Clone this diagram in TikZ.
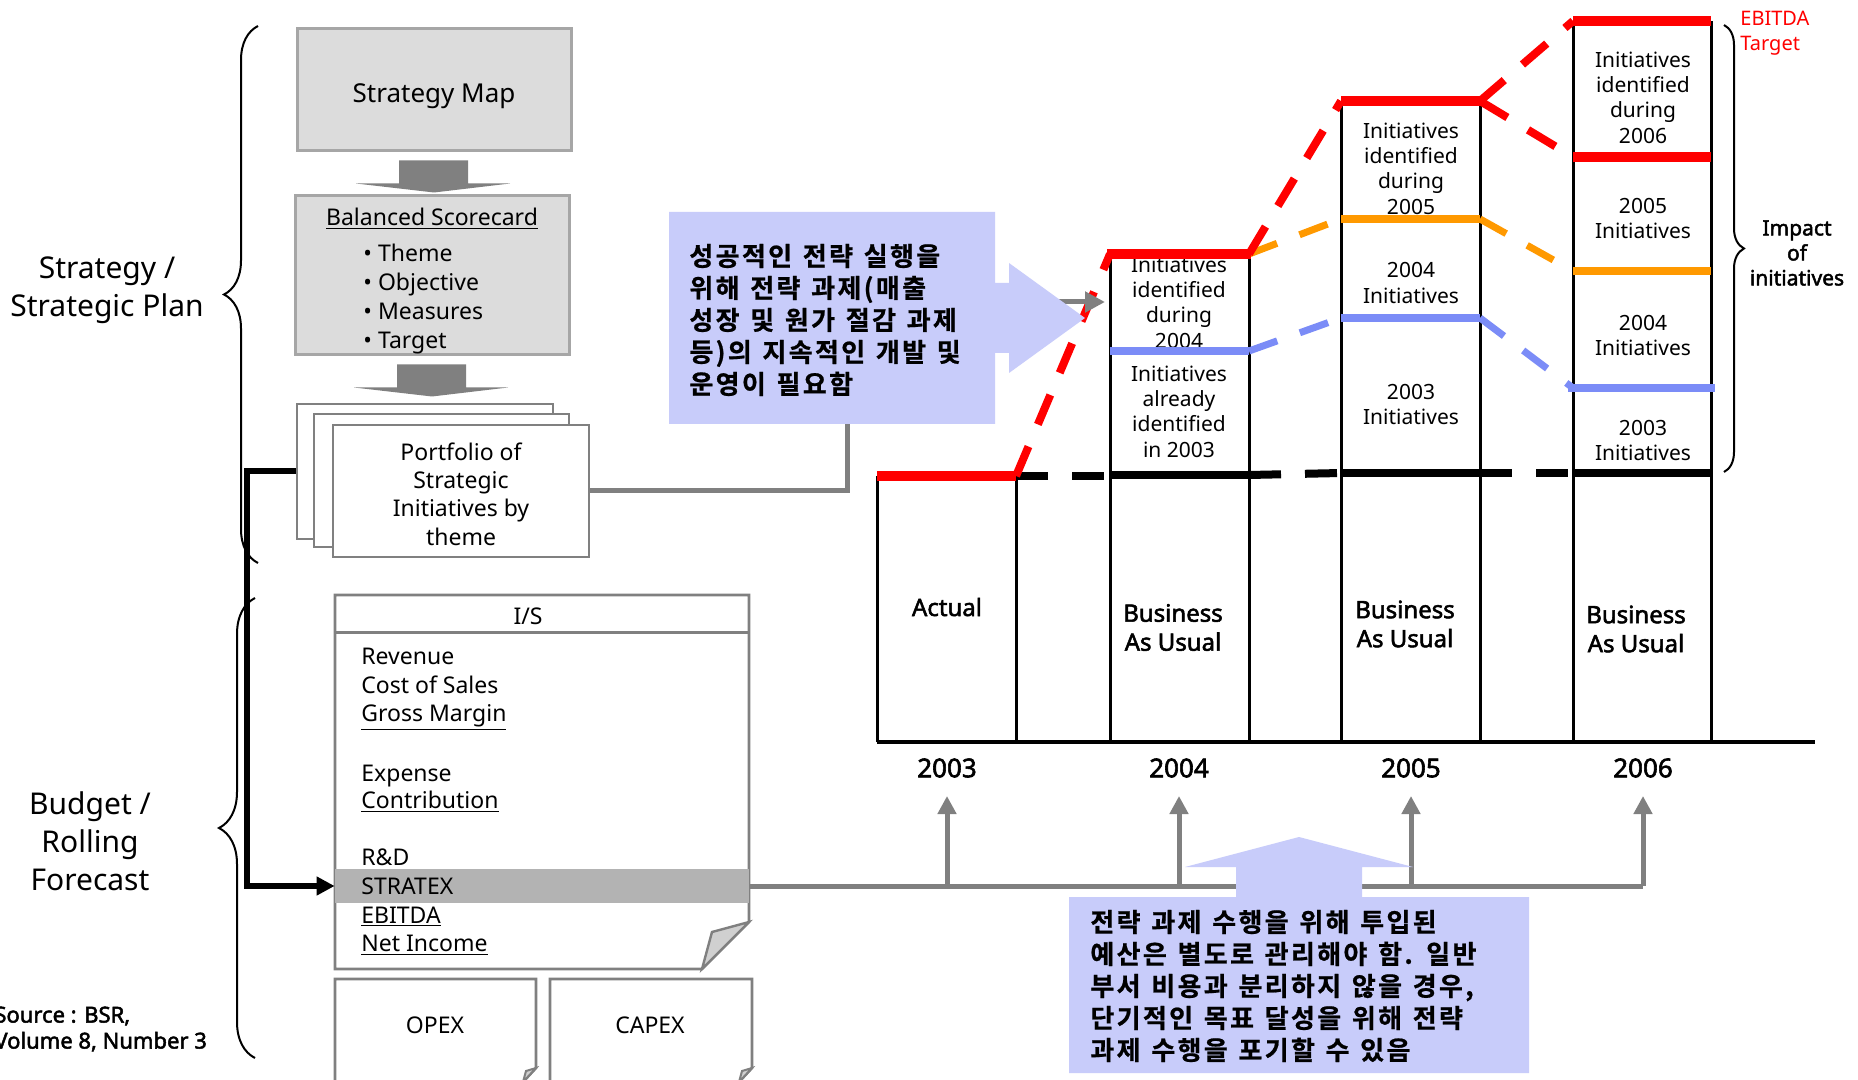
\documentclass[tikz,border=0pt]{standalone}
\usepackage{fontspec}
\setmainfont{Noto Sans}[AutoFakeBold=2.2]
\newfontfamily\krfont{Noto Sans CJK KR Bold}[FakeBold=0.8, LetterSpace=9, WordSpace=1.3]
\usetikzlibrary{decorations.pathreplacing,arrows.meta,calc}

\definecolor{panelgray}{HTML}{DCDCDC}
\definecolor{paneledge}{HTML}{A6A6A6}
\definecolor{linkgray}{HTML}{808080}
\definecolor{bandgray}{HTML}{B3B3B3}
\definecolor{foldgray}{HTML}{D0D0D0}
\definecolor{noteblue}{HTML}{C8CCFA}
\definecolor{trackred}{HTML}{FF0000}
\definecolor{trackorange}{HTML}{FF9900}
\definecolor{trackblue}{HTML}{7B8CF7}

\newcommand{\fsz}[2]{\fontsize{#1}{#2}\selectfont}

\tikzset{
  panel/.style={draw=paneledge, line width=1.5pt, fill=panelgray, inner sep=0pt},
  sheet/.style={draw=linkgray, line width=1.3pt, fill=white, inner sep=0pt},
  txt/.style={inner sep=0pt, align=center},
  leftxt/.style={inner sep=0pt, align=left},
  linkline/.style={draw=linkgray, line width=2.5pt},
  uptip/.style={-{Triangle[length=9pt,width=9pt]}},
  barline/.style={draw=black, line width=1.5pt},
  solidred/.style={draw=trackred, line width=5pt},
  dashred/.style={draw=trackred, line width=4pt, dash pattern=on 16pt off 12pt},
  solidorange/.style={draw=trackorange, line width=4pt},
  dashorange/.style={draw=trackorange, line width=3.5pt, dash pattern=on 15pt off 12pt},
  solidblue/.style={draw=trackblue, line width=4pt},
  dashblue/.style={draw=trackblue, line width=3.5pt, dash pattern=on 15pt off 12pt},
  basesolid/.style={draw=black, line width=4pt},
  basedash/.style={draw=black, line width=4pt, dash pattern=on 16pt off 12pt},
  inbar/.style={txt, font=\fsz{10.5}{12.7}},
  barhead/.style={txt, font=\bfseries\fsz{12}{14.5}},
  yearlbl/.style={txt, font=\bfseries\fsz{13}{15}},
  isitem/.style={inner sep=0pt, anchor=base west, font=\fsz{11.5}{14}},
  bracepath/.style={draw=black, line width=1pt, decorate},
  note/.style={fill=noteblue},
  notetext/.style={leftxt, anchor=west, font=\krfont\fsz{13}{16}}
}

% flat grey block arrow hanging below a panel
\newcommand{\blockdown}[1]{%
  \fill[linkgray] ($(#1.south)+(-35,8)$) -- ++(69,0) -- ++(0,23) -- ++(42,0)
    -- ($(#1.south)+(0,40)$) -- ($(#1.south)+(-78,31)$) -- ++(43,0) -- cycle;}

\begin{document}
\begin{tikzpicture}[x=0.5pt, y=-0.5pt]
\useasboundingbox (0,0) rectangle (1858,1080);
\fill[white] (0,0) rectangle (1858,1080);

% ---------- side labels and braces ----------
\node[txt, font=\fsz{15}{19}] (lblplan) at (107,290) {Strategy /\\Strategic Plan};
\node[txt, font=\fsz{15}{19}] (lblbudget) at (90,841) {Budget /\\Rolling\\Forecast};
\node[leftxt, anchor=west, font=\bfseries\fsz{11}{13}] (src) at (-6,1029) {Source : BSR,\\Volume 8, Number 3};
\draw[bracepath, decoration={brace, amplitude=17pt}] (258,563) -- (258,26);
\draw[bracepath, decoration={brace, amplitude=18pt}] (255,1058) -- (255,598);

% ---------- planning stack ----------
\node[panel, minimum width=137pt, minimum height=61pt] (smap) at (434,90) {};
\node[txt, font=\fsz{13}{16}] (smaptext) at (434,96) {Strategy Map};
\node[panel, minimum width=137pt, minimum height=79.5pt] (bsc) at (432,275.5) {};
\node[txt, font=\fsz{11.5}{14}] (bsctitle) at (432,219) {\underline{Balanced Scorecard}};
\node[leftxt, anchor=west, font=\fsz{11.5}{14.4}] (bsclist) at (363,299)
  {\textbullet\ Theme\\\textbullet\ Objective\\\textbullet\ Measures\\\textbullet\ Target};
\blockdown{smap}
\blockdown{bsc}

\node[sheet, minimum width=128pt, minimum height=67.5pt] (pback) at (425,471.5) {};
\node[sheet, minimum width=127.5pt, minimum height=66.5pt] (pmid) at (441.5,480.5) {};
\node[sheet, minimum width=128pt, minimum height=66pt] (pfront) at (461,491) {};
\node[txt, font=\fsz{11.5}{14.2}] (pfronttext) at (461,494)
  {Portfolio of\\Strategic\\Initiatives by\\theme};

% ---------- income statement sheet ----------
\draw[sheet] (335,595) -- (749,595) -- (749,922) -- (702,969) -- (335,969) -- cycle;
\node[fill=bandgray, inner sep=0pt, minimum width=207pt, minimum height=17pt] (stx) at (542,886) {};
\draw[draw=linkgray, line width=1.5pt] (335,632) -- (749,632);
\filldraw[fill=foldgray, draw=linkgray, line width=1.2pt] (749,922) -- (712,932) -- (702,969) -- cycle;
\node[txt, font=\fsz{11.5}{14}] (ishead) at (528,616) {I/S};
\node[isitem] (revenue) at (361,664) {Revenue};
\node[isitem] (cos) at (361,693) {Cost of Sales};
\node[isitem] (gm) at (361,721) {\underline{Gross Margin}};
\node[isitem] (expense) at (361,781) {Expense};
\node[isitem] (contrib) at (361,808) {\underline{Contribution}};
\node[isitem] (rnd) at (361,865) {R\&D};
\node[isitem] (stratex) at (361,894) {STRATEX};
\node[isitem] (ebitda) at (361,923) {\underline{EBITDA}};
\node[isitem] (netinc) at (361,951) {\underline{Net Income}};

% expense sheets along the bottom edge
\draw[sheet] (335,1090) -- (335,979) -- (536,979) -- (536,1068) -- (523,1082);
\filldraw[fill=foldgray, draw=linkgray, line width=1pt] (536,1068) -- (526,1071) -- (523,1082) -- cycle;
\draw[sheet] (550,1090) -- (550,979) -- (752,979) -- (752,1068) -- (739,1082);
\filldraw[fill=foldgray, draw=linkgray, line width=1pt] (752,1068) -- (742,1071) -- (739,1082) -- cycle;
\node[txt, font=\fsz{11.5}{14}] (opex) at (435,1025) {OPEX};
\node[txt, font=\fsz{11.5}{14}] (capex) at (650,1025) {CAPEX};

% ---------- chart ----------
\coordinate (b4in) at (1110,302);
\coordinate (riser) at (847,302);

% labels inside bars
\node[inbar] (t4a) at (1179,302.5) {Initiatives\\identified\\during\\2004};
\node[inbar] (t4b) at (1179,411.5) {Initiatives\\already\\identified\\in 2003};
\node[inbar] (t5a) at (1411,168.5) {Initiatives\\identified\\during\\2005};
\node[inbar] (t5b) at (1411,283) {2004\\Initiatives};
\node[inbar] (t5c) at (1411,404.5) {2003\\Initiatives};
\node[inbar] (t6a) at (1643,97.5) {Initiatives\\identified\\during\\2006};
\node[inbar] (t6b) at (1643,218.5) {2005\\Initiatives};
\node[inbar] (t6c) at (1643,335.5) {2004\\Initiatives};
\node[inbar] (t6d) at (1643,440.5) {2003\\Initiatives};

\node[barhead] (actual) at (947,607) {Actual};
\node[barhead] (bau4) at (1173,627.5) {Business\\As Usual};
\node[barhead] (bau5) at (1405,624) {Business\\As Usual};
\node[barhead] (bau6) at (1636,629) {Business\\As Usual};

\node[yearlbl] (yr3) at (947,768) {2003};
\node[yearlbl] (yr4) at (1179,768) {2004};
\node[yearlbl] (yr5) at (1411,768) {2005};
\node[yearlbl] (yr6) at (1643,768) {2006};

% bar outlines
\draw[barline] (877,742) -- (877,476);   \draw[barline] (1016,742) -- (1016,476);
\draw[barline] (1110,742) -- (1110,254); \draw[barline] (1249,742) -- (1249,254);
\draw[barline] (1341,742) -- (1341,101); \draw[barline] (1480,742) -- (1480,101);
\draw[barline] (1573,742) -- (1573,21);  \draw[barline] (1711,742) -- (1711,21);
\draw[draw=black, line width=2pt] (877,742) -- (1815,742);

% business-as-usual level
\draw[basesolid] (1110,475) -- (1249,475);
\draw[basesolid] (1341,473) -- (1480,473);
\draw[basesolid] (1573,473) -- (1711,473);
\draw[basedash] (1016,476) -- (1110,476);
\draw[basedash] (1249,475) -- (1341,473);
\draw[basedash] (1480,473) -- (1573,473);

% initiative tiers
\draw[solidblue] (1110,351) -- (1249,351);
\draw[solidblue] (1341,318) -- (1480,318);
\draw[solidblue] (1568,388) -- (1715,388);
\draw[dashblue] (1249,351) -- (1341,318);
\draw[dashblue] (1480,318) -- (1573,388);
\draw[solidorange] (1341,219) -- (1480,219);
\draw[solidorange] (1573,271) -- (1711,271);
\draw[dashorange] (1249,254) -- (1341,219);
\draw[dashorange] (1480,219) -- (1573,271);

% EBITDA track
\draw[solidred] (877,476) -- (1016,476);
\draw[solidred] (1107,254) -- (1251,254);
\draw[solidred] (1341,101) -- (1482,101);
\draw[solidred] (1573,21) -- (1711,21);
\draw[solidred] (1573,157) -- (1711,157);
\draw[dashred] (1016,476) -- (1110,254);
\draw[dashred] (1249,254) -- (1341,101);
\draw[dashred] (1480,101) -- (1573,21);
\draw[dashred] (1480,101) -- (1573,157);

\node[leftxt, anchor=west, text=trackred, font=\fsz{10}{12.5}] (ebitdalbl) at (1740,33) {EBITDA\\Target};
\draw[bracepath, decoration={brace, amplitude=10pt}] (1724,25) -- (1724,472);
\node[txt, font=\bfseries\fsz{10.5}{12.5}] (impact) at (1797,253) {Impact\\of\\initiatives};

% ---------- connectors ----------
\draw[draw=black, line width=3pt, -{Triangle[length=9pt,width=9pt]}] (pback.west) -- ++(-49,0) |- (stx.west);
\draw[linkline] (stx.east) -- (yr6 |- stx.east);
\foreach \yr in {yr3,yr4,yr5,yr6}
  \draw[linkline, uptip] (\yr |- stx.east) -- ($(\yr.center)+(0,28)$);
\draw[linkline, -{Triangle[length=10pt,width=10pt]}, shorten >=2.5pt] (pfront.east) -| (riser) -- (b4in);

% ---------- call-outs ----------
\fill[note] (669,212) -- (995,212) -- (995,283) -- (1009,283) -- (1009,263) -- (1085,318)
  -- (1009,373) -- (1009,353) -- (995,353) -- (995,424) -- (669,424) -- cycle;
\node[notetext] (note1) at (689,320)
  {성공적인 전략 실행을\\위해 전략 과제(매출\\성장 및 원가 절감 과제\\등)의 지속적인 개발 및\\운영이 필요함};

\fill[note] (1069,897) -- (1236,897) -- (1236,867) -- (1185,867) -- (1299,837) -- (1413,867)
  -- (1362,867) -- (1362,897) -- (1529,897) -- (1529,1073) -- (1069,1073) -- cycle;
\node[notetext] (note2) at (1090,986)
  {전략 과제 수행을 위해 투입된\\예산은 별도로 관리해야 함. 일반\\부서 비용과 분리하지 않을 경우,\\단기적인 목표 달성을 위해 전략\\과제 수행을 포기할 수 있음};
\end{tikzpicture}
\end{document}
